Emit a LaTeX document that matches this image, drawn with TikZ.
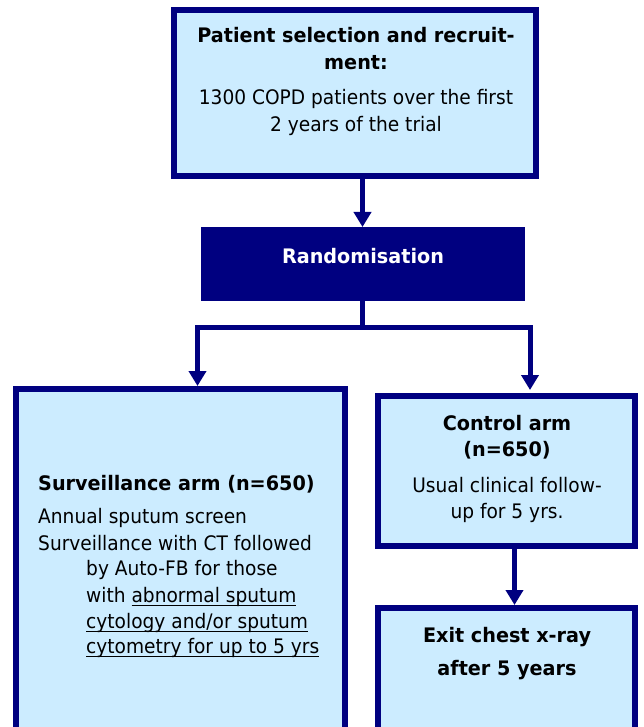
\documentclass[tikz,border=0pt]{standalone}
\usepackage{fontspec}
\setmainfont{DejaVu Sans}[FakeStretch=0.93,BoldFeatures={FakeStretch=0.96}]
\newsavebox\ulbox
\newcommand\myul[1]{\sbox\ulbox{#1}\rlap{\rule[-4pt]{\wd\ulbox}{1.4pt}}\usebox\ulbox}
\usetikzlibrary{arrows.meta}
\definecolor{navy}{HTML}{000080}
\definecolor{lightblue}{HTML}{CCECFF}
\begin{document}
\begin{tikzpicture}[x=1pt,y=-1pt,
  box/.style={draw=navy, line width=6pt, fill=lightblue, inner sep=0pt},
  conn/.style={draw=navy, line width=5pt, -{Triangle[width=17pt,length=15pt]}},
  plain/.style={draw=navy, line width=5pt},
  txt/.style={anchor=base, inner sep=0pt, font=\fontsize{20}{24}\selectfont},
  txtl/.style={anchor=base west, inner sep=0pt, font=\fontsize{20}{24}\selectfont},
  bold/.style={font=\fontsize{20}{24}\selectfont\bfseries}]
\useasboundingbox (0,0) rectangle (643,727);
\clip (0,0) rectangle (643,727);
% boxes
\node[box, minimum width=362pt, minimum height=166pt] (top) at (355,93) {};
\node[fill=navy, inner sep=0pt, outer sep=0pt, minimum width=324pt, minimum height=74pt] (rand) at (363,264) {};
\node[box, minimum width=329pt, minimum height=356pt] (surv) at (180.5,567) {};
\node[box, minimum width=257pt, minimum height=150pt] (ctrl) at (506.5,471) {};
\node[box, minimum width=257pt, minimum height=137pt] (exit) at (506.5,676.5) {};
% connectors
\coordinate (jn) at (362.5,327.5);
\coordinate (jl) at (197.5,327.5);
\coordinate (jr) at (530,327.5);
\coordinate (ce) at (514.5,549);
\draw[conn] (top.south -| jn) -- (rand.north -| jn);
\draw[plain] (rand.south -| jn) -- (jn);
\draw[conn] (jn) -| (surv.north -| jl);
\draw[conn] (jn) -| ([yshift=3pt]ctrl.north -| jr);
\draw[conn] (ctrl.south -| ce) -- (exit.north -| ce);
% texts
\node[txt, bold] (t1) at (356,43) {Patient selection and recruit-};
\node[txt, bold] (t2) at (356,70) {ment:};
\node[txt] (t3) at (356,105) {1300 COPD patients over the first};
\node[txt] (t4) at (356,132) {2 years of the trial};
\node[txt, bold, text=white] (r1) at (363,263) {Randomisation};
\node[txtl, bold] (s1) at (38,490) {Surveillance arm (n=650)};
\node[txtl] (s2) at (38,523) {Annual sputum screen};
\node[txtl] (s3) at (38,550) {Surveillance with CT followed};
\node[txtl] (s4) at (86,575) {by Auto-FB for those};
\node[txtl] (s5) at (86,602) {with \myul{abnormal sputum}};
\node[txtl] (s6) at (86,628) {\myul{cytology and/or sputum}};
\node[txtl] (s7) at (86,653) {\myul{cytometry for up to 5 yrs}};
\node[txt, bold] (c1) at (507,430) {Control arm};
\node[txt, bold] (c2) at (507,456) {(n=650)};
\node[txt] (c3) at (507,492) {Usual clinical follow-};
\node[txt] (c4) at (507,518) {up for 5 yrs.};
\node[txt, bold] (e1) at (507,642) {Exit chest x-ray};
\node[txt, bold] (e2) at (507,675) {after 5 years};
\end{tikzpicture}
\end{document}
